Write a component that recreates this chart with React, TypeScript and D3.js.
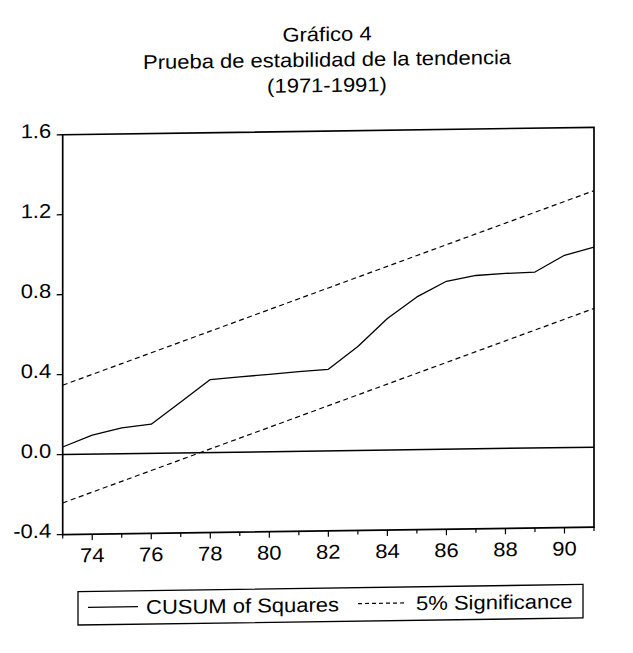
import React from "react";
import * as d3 from "d3";

// ---- data ----
const years = [1973, 1974, 1975, 1976, 1977, 1978, 1979, 1980, 1981, 1982, 1983, 1984, 1985, 1986, 1987, 1988, 1989, 1990, 1991];
const cusumSquares = [0.038, 0.095, 0.129, 0.146, 0.255, 0.365, 0.376, 0.387, 0.398, 0.408, 0.52, 0.658, 0.764, 0.84, 0.867, 0.875, 0.88, 0.962, 1.0];
const upper5 = [0.347, 0.399, 0.451, 0.503, 0.555, 0.607, 0.659, 0.711, 0.763, 0.815, 0.867, 0.919, 0.971, 1.023, 1.075, 1.127, 1.179, 1.231, 1.283];
const lower5 = [-0.242, -0.19, -0.138, -0.086, -0.034, 0.018, 0.07, 0.122, 0.174, 0.226, 0.278, 0.33, 0.382, 0.434, 0.486, 0.538, 0.59, 0.642, 0.694];
const yTicks = [-0.4, 0.0, 0.4, 0.8, 1.2, 1.6];
const xLabelYears = [1974, 1976, 1978, 1980, 1982, 1984, 1986, 1988, 1990];
const titleLines = ["Gráfico 4", "Prueba de estabilidad de la tendencia", "(1971-1991)"];
const legendLabels = ["CUSUM of Squares", "5% Significance"];

const FONT = "'Liberation Sans', Arial, Helvetica, sans-serif";

function Txt({ x, y, anchor = "start", size = 20, children }: { x: number; y: number; anchor?: string; size?: number; children: React.ReactNode }) {
  return (
    <text
      transform={`translate(${x},${y}) scale(1.1,1)`}
      textAnchor={anchor as any}
      fontSize={size}
      fontFamily={FONT}
      fill="#000"
    >
      {children}
    </text>
  );
}

export default function App() {
  const W = 633;
  const H = 653;
  const L = 62.7, R = 594, T = 131, B = 530.8;

  const x = d3.scaleLinear().domain([1973, 1991]).range([L, R]);
  const y = d3.scaleLinear().domain([-0.4, 1.6]).range([B, T]);
  const fmt = (v: number) => d3.format(".1f")(v).replace("\u2212", "-");

  const line = d3
    .line<number>()
    .x((_, i) => x(years[i]))
    .y((d) => y(d));

  const titleY = [41, 66.5, 92];

  // legend geometry
  const lgL = 78, lgR = 583, lgT = 588, lgB = 621.5;
  const lgMid = 604;

  return (
    <svg
      width={W}
      height={H}
      viewBox={`0 0 ${W} ${H}`}
      style={{ position: "absolute", left: 0, top: 0, background: "#fff" }}
    >
      <rect x={0} y={0} width={W} height={H} fill="#fff" />
      {/* slight vertical shear, as in the scanned reference */}
      <g transform="matrix(1,-0.014,0,1,0,4.62)">
        {/* title */}
        {titleLines.map((t, i) => (
          <Txt key={t} x={327} y={titleY[i]} anchor="middle">
            {t}
          </Txt>
        ))}

        {/* zero line */}
        <line x1={L} x2={R} y1={y(0)} y2={y(0)} stroke="#000" strokeWidth={1.5} />

        {/* 5% significance bounds */}
        <path d={line(upper5) || ""} fill="none" stroke="#000" strokeWidth={1.2} strokeDasharray="5,3.5" />
        <path d={line(lower5) || ""} fill="none" stroke="#000" strokeWidth={1.2} strokeDasharray="5,3.5" />

        {/* CUSUM of squares */}
        <path d={line(cusumSquares) || ""} fill="none" stroke="#000" strokeWidth={1.3} strokeLinejoin="round" />

        {/* frame */}
        <rect x={L} y={T} width={R - L} height={B - T} fill="none" stroke="#000" strokeWidth={1.7} />

        {/* y ticks and labels */}
        {yTicks.map((v) => (
          <g key={v}>
            <line x1={L - 6} x2={L} y1={y(v)} y2={y(v)} stroke="#000" strokeWidth={1.3} />
            <Txt x={L - 11.5} y={y(v) + 3} anchor="end">
              {fmt(v)}
            </Txt>
          </g>
        ))}

        {/* x ticks */}
        {years.map((yr) => (
          <line
            key={yr}
            x1={x(yr)}
            x2={x(yr)}
            y1={B}
            y2={B + (yr % 2 === 0 ? 6 : 4)}
            stroke="#000"
            strokeWidth={1.2}
          />
        ))}
        {xLabelYears.map((yr) => (
          <Txt key={yr} x={x(yr)} y={B + 28} anchor="middle">
            {String(yr).slice(2)}
          </Txt>
        ))}

        {/* legend */}
        <rect x={lgL} y={lgT} width={lgR - lgL} height={lgB - lgT} fill="#fff" stroke="#000" strokeWidth={1.3} />
        <line x1={88} x2={138} y1={lgMid} y2={lgMid} stroke="#000" strokeWidth={1.3} />
        <Txt x={146} y={611.5}>{legendLabels[0]}</Txt>
        <line x1={358} x2={404} y1={lgMid} y2={lgMid} stroke="#000" strokeWidth={1.2} strokeDasharray="4,3" />
        <Txt x={416} y={611.5}>{legendLabels[1]}</Txt>
      </g>
    </svg>
  );
}
